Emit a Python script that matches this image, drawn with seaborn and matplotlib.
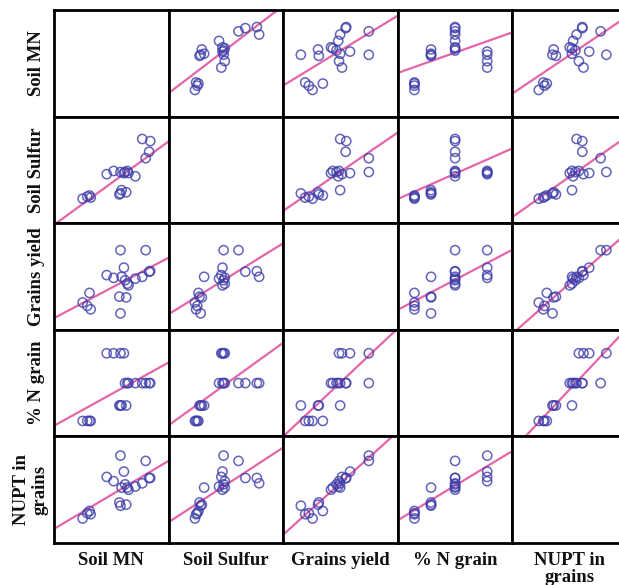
import numpy as np
import pandas as pd
import matplotlib
matplotlib.use("Agg")
import matplotlib.pyplot as plt
import seaborn as sns

sns.set_style("white")
plt.rcParams['font.family'] = ['Liberation Serif', 'DejaVu Serif']

labels = ["Soil MN", "Soil Sulfur", "Grains yield", "% N grain", "NUPT in\ngrains"]

soil_mn = [25, 29, 31, 32, 46, 52, 57, 58, 58, 59, 61, 62, 63, 64, 65, 71, 77, 80, 83, 84]
soil_sulfur = [23, 25, 26, 24, 46, 49, 27, 28, 48, 31, 47, 48, 29, 49, 47, 44, 79, 61, 67, 77]
grains_yield = [25.6, 22.4, 34.6, 19.2, 51.3, 48.7, 31.1, 15.4, 74.7, 49.7, 58.3, 46.5, 30.4,
                43.3, 41.7, 48.0, 49.7, 74.7, 54.5, 55.0]
n_grain = [14.5, 14.5, 14.5, 14.5, 78, 78, 29, 29, 78, 29, 78, 50, 29, 50, 50, 50, 50, 50, 50, 50]
nupt = [23, 28, 30, 27, 62, 58, 38, 35, 82, 52, 67, 55, 36, 52, 50, 53, 56, 77, 61, 61]

df = pd.DataFrame({
    labels[0]: soil_mn,
    labels[1]: soil_sulfur,
    labels[2]: grains_yield,
    labels[3]: n_grain,
    labels[4]: nupt,
})

W, H = 619, 585
fig = plt.figure(figsize=(W / 100, H / 100), dpi=100)
left, right = 54 / W, 627 / W
top, bottom = 1 - 10 / H, 1 - 543 / H
gs = fig.add_gridspec(5, 5, left=left, right=right, top=top, bottom=bottom,
                      wspace=0, hspace=0)

blue = "#3d3daa"
pink = "#e566a8"
n = len(labels)
for i in range(n):
    for j in range(n):
        ax = fig.add_subplot(gs[i, j])
        ax.set_xlim(0, 100)
        ax.set_ylim(0, 100)
        if i != j:
            sns.regplot(data=df, x=labels[j], y=labels[i], ax=ax, ci=None,
                        truncate=False, color=blue,
                        scatter_kws={"facecolors": "none", "edgecolors": blue,
                                     "s": 44, "linewidths": 1.1, "zorder": 3},
                        line_kws={"color": pink, "lw": 1.6, "zorder": 2})
            ax.set_xlim(0, 100)
            ax.set_ylim(0, 100)
        ax.set_xlabel("")
        ax.set_ylabel("")
        ax.set_xticks([])
        ax.set_yticks([])
        for sp in ax.spines.values():
            sp.set_visible(True)
            sp.set_color("black")
            sp.set_linewidth(2.0)
        if j == 0:
            xpos = -0.2 if "\n" in labels[i] else -0.15
            ax.text(xpos, 0.5, labels[i], transform=ax.transAxes, rotation=90,
                    ha="center", va="center", fontsize=13.5, fontweight="bold",
                    linespacing=1.1, color="#111111")
        if i == n - 1:
            ax.text(0.5, -0.08, labels[j], transform=ax.transAxes,
                    ha="center", va="top", fontsize=13.5, fontweight="bold",
                    linespacing=1.0, color="#111111")

fig.savefig("out.png", dpi=100)
